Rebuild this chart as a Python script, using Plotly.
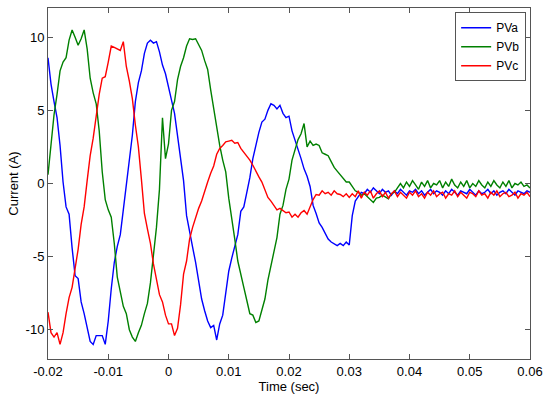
import plotly.graph_objects as go

T0 = -0.02
DT = 0.0005

pva_main = [8.6, 6.8, 5.6, 4.5, 2.6, 0.1, -1.6, -2.1, -4.4, -6.3,
            -6.5, -8.1, -8.9, -9.8, -10.8, -11.0, -10.4, -10.4, -10.4, -11.0,
            -9.4, -7.2, -5.4, -4.3, -3.5, -1.8, 0.0, 1.6, 3.3, 5.6,
            6.9, 7.7, 8.9, 9.6, 9.8, 9.6, 9.7, 9.0, 8.1, 7.5,
            6.7, 5.7, 4.8, 3.3, 1.7, 0.2, -2.2, -3.4, -4.35, -5.4,
            -6.7, -7.9, -8.7, -9.4, -9.85, -9.7, -10.7, -9.6, -9.0, -7.5,
            -6.0, -5.1, -4.3, -3.5, -1.9, -1.6, -0.6, 0.4, 1.7, 2.7,
            3.5, 4.2, 4.4, 5.0, 5.45, 5.35, 5.1, 5.35, 4.8, 4.5,
            4.6, 3.6, 3.0, 2.3, 1.7, 1.0, 0.5, -0.2, -1.5, -2.05,
            -2.7, -3.0, -3.45, -3.8, -4.0, -4.1, -4.25, -4.1, -4.25, -4.0,
            -4.2, -2.2, -1.2, -0.9, -0.6]
pva_tail = [-0.7, -0.4, -0.6, -0.3, -0.5, -0.7, -0.4, -0.6,
            -0.5, -0.8, -0.5, -0.7, -0.4, -0.6, -0.8, -0.5,
            -0.6, -0.4, -0.7, -0.5, -0.8, -0.6, -0.4, -0.7,
            -0.5, -0.6, -0.8, -0.5, -0.7, -0.4, -0.6, -0.8,
            -0.5, -0.6, -0.7, -0.4, -0.6, -0.8, -0.5, -0.7,
            -0.6, -0.4, -0.7, -0.5, -0.8, -0.6, -0.5, -0.7,
            -0.4, -0.6, -0.8, -0.5, -0.6, -0.7, -0.5, -0.6]

pvb_main = [0.6, 2.5, 4.7, 6.1, 7.7, 8.3, 8.6, 9.8, 10.5, 10.0,
            9.45, 9.9, 10.5, 9.2, 7.2, 6.2, 5.45, 3.6, 0.8, -1.1,
            -1.8, -2.3, -4.1, -6.4, -7.5, -8.4, -8.9, -10.0, -10.5, -10.8,
            -10.2, -9.7, -8.9, -8.2, -6.8, -5.0, -3.0, -0.4, 4.5, 1.7,
            2.7, 5.0, 5.6, 7.1, 8.0, 8.6, 9.4, 9.9, 9.85, 9.9,
            9.45, 9.1, 8.4, 7.8, 6.4, 5.1, 3.8, 2.6, 1.6, 0.8,
            -1.0, -2.6, -3.8, -5.3, -6.3, -7.1, -8.0, -8.9, -9.0, -9.5,
            -9.4, -8.6, -7.9, -6.6, -5.6, -4.7, -3.7, -2.1, -1.5, -0.4,
            0.3, 1.6, 2.4, 3.0, 3.4, 4.1, 2.5, 2.9, 2.6, 2.7,
            2.6, 2.1, 2.0, 1.9, 1.5, 1.1, 0.85, 0.6, 0.3, 0.1,
            0.1, -0.25, -0.5, -0.6, -0.8, -0.7, -0.9, -1.05, -1.3, -1.0,
            -0.95, -0.8, -0.95, -1.05, -0.7, -0.6, -0.3, 0.0]
pvb_tail = [-0.3, 0.1, -0.2, 0.2, -0.1, -0.4, 0.1, -0.2,
            0.2, -0.3, 0.0, -0.1, 0.2, -0.3, 0.1, -0.2,
            0.3, -0.1, -0.3, 0.1, -0.2, 0.2, -0.3, 0.0,
            -0.2, 0.2, -0.1, -0.3, 0.1, -0.2, 0.2, -0.1,
            -0.3, 0.1, -0.2, 0.2, -0.3, 0.0, -0.1, 0.1,
            -0.2, -0.1, -0.3]

pvc_main = [-8.8, -10.2, -10.5, -10.2, -11.0, -10.2, -8.9, -7.8, -7.1, -5.9,
            -4.5, -2.8, -1.6, 0.2, 1.9, 3.1, 4.8, 6.1, 7.2, 7.3,
            8.3, 9.4, 9.3, 9.2, 9.1, 9.7, 8.0, 7.0, 5.8, 4.0,
            2.5, 0.3, -2.05, -3.1, -4.1, -5.5, -6.6, -7.6, -8.1, -9.0,
            -9.6, -9.6, -10.4, -9.9, -8.3, -6.2, -5.3, -3.8, -3.0, -2.3,
            -1.7, -1.2, -0.5, 0.1, 0.7, 1.2, 2.0, 2.4, 2.6, 2.85,
            2.9, 2.95, 2.75, 2.8, 2.4, 2.15, 1.9, 1.6, 1.25, 0.8,
            0.45, 0.1, -0.45, -0.95, -1.2, -1.55, -1.8, -1.7, -1.85, -2.0,
            -1.95, -2.3, -2.1, -2.3, -2.0, -1.85, -2.1, -1.55, -1.1, -0.75,
            -0.8, -0.5, -0.7, -0.6, -0.8, -0.5, -0.7, -0.75, -0.9, -0.7,
            -0.95, -0.7]
pvc_tail = [-0.9, -0.5, -1.0, -0.6, -0.8, -0.5, -1.0, -0.7,
            -0.5, -0.9, -0.6, -1.0, -0.7, -0.5, -0.9, -0.6,
            -0.8, -1.0, -0.6, -0.8, -0.5, -0.9, -0.7, -1.0,
            -0.6, -0.8, -0.5, -0.9, -0.7, -0.6, -1.0, -0.7,
            -0.8, -0.5, -0.9, -0.6, -0.8, -1.0, -0.6, -0.7,
            -0.9, -0.5, -0.8, -0.7, -1.0, -0.6, -0.8, -0.5,
            -0.9, -0.7, -0.6, -0.9, -0.8, -0.6, -1.0, -0.7,
            -0.8, -0.6, -0.9]

x_ticks = [-0.02, -0.01, 0, 0.01, 0.02, 0.03, 0.04, 0.05, 0.06]
x_tick_labels = ["-0.02", "-0.01", "0", "0.01", "0.02", "0.03", "0.04", "0.05", "0.06"]
y_ticks = [-10, -5, 0, 5, 10]
y_tick_labels = ["-10", "-5", "0", "5", "10"]

series = [
    ("PVa", pva_main + pva_tail, "#0000FF"),
    ("PVb", pvb_main + pvb_tail, "#008000"),
    ("PVc", pvc_main + pvc_tail, "#FF0000"),
]

fig = go.Figure()
for name, vals, color in series:
    t = [round(T0 + DT * i, 5) for i in range(len(vals))]
    fig.add_trace(go.Scatter(x=t, y=vals, mode="lines", name=name,
                             line=dict(color=color, width=1.4)))

axis_color = "#555555"
fig.update_layout(
    width=550, height=398,
    margin=dict(l=48, r=16, t=7, b=39),
    paper_bgcolor="white", plot_bgcolor="white",
    font=dict(family="Liberation Sans, Arial, sans-serif", size=13, color="black"),
    showlegend=True,
    legend=dict(x=0.992, y=0.988, xanchor="right", yanchor="top",
                bgcolor="white", bordercolor=axis_color, borderwidth=1,
                font=dict(size=12), tracegroupgap=0, itemwidth=30),
    xaxis=dict(range=[-0.02, 0.06], tickvals=x_ticks, ticktext=x_tick_labels,
               ticks="inside", ticklen=5, tickcolor=axis_color,
               showline=True, linecolor=axis_color, linewidth=1, mirror="ticks",
               showgrid=False, zeroline=False,
               title=dict(text="Time (sec)", standoff=2, font=dict(size=13))),
    yaxis=dict(range=[-12, 12], tickvals=y_ticks, ticktext=y_tick_labels,
               ticks="inside", ticklen=5, tickcolor=axis_color,
               showline=True, linecolor=axis_color, linewidth=1, mirror="ticks",
               showgrid=False, zeroline=False,
               title=dict(text="Current (A)", standoff=4, font=dict(size=13))),
)

fig.write_html("out.html",
               config={"displayModeBar": False},
               post_script="document.body.style.margin='0';document.body.style.overflow='hidden';")
